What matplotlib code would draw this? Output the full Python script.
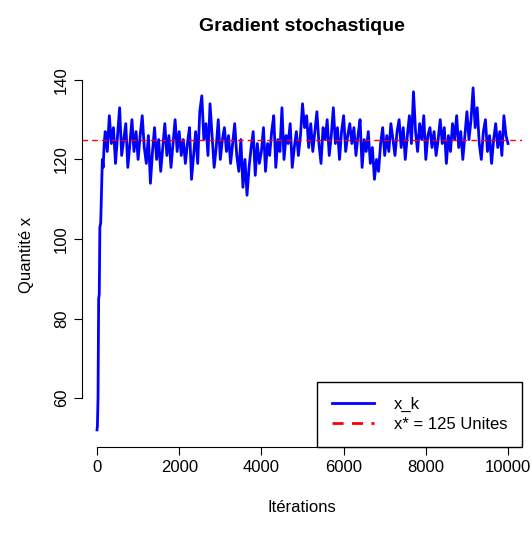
import numpy as np
import matplotlib.pyplot as plt

plt.rcParams['font.family'] = ['Liberation Sans', 'DejaVu Sans']

# start of the run (iteration, value)
start_iter = [0, 10, 25, 40, 55, 70, 90, 110, 130, 150, 175]
start_vals = [52, 53, 60, 85, 86, 103, 104, 112, 120, 118, 124]

# then one reading every 50 iterations from 200 on
trace_vals = [
    127, 122, 131, 124, 128, 119, 126, 133, 121, 125, 129, 118, 124, 130, 122, 127, 120, 126, 131, 123,
    119, 126, 114, 122, 128, 120, 125, 117, 123, 129, 121, 126, 118, 124, 130, 122, 127, 121, 125, 119,
    124, 128, 115, 121, 127, 119, 132, 136, 125, 129, 121, 134, 126, 118, 123, 130, 120, 125, 128, 122,
    126, 119, 124, 129, 121, 117, 125, 113, 120, 111, 118, 123, 127, 116, 124, 119, 122, 128, 117, 124,
    121, 127, 131, 118, 125, 122, 133, 120, 126, 124, 129, 118, 123, 127, 121, 126, 134, 128, 131, 123,
    129, 122, 127, 132, 124, 119, 128, 125, 130, 121, 126, 133, 124, 128, 120, 127, 131, 122, 126, 129,
    124, 128, 121, 126, 130, 118, 125, 122, 127, 119, 123, 115, 120, 117, 124, 128, 121, 126, 122, 129,
    125, 121, 127, 130, 123, 128, 120, 126, 131, 124, 137, 127, 122, 129, 125, 131, 120, 126, 128, 123,
    127, 121, 125, 130, 124, 128, 119, 126, 122, 129, 125, 131, 123, 127, 120, 126, 132, 125, 130, 138,
    128, 133, 124, 120, 127, 130, 122, 126, 119, 125, 129, 123, 127, 121, 131, 126, 124,
]
trace_iter = list(np.arange(200, 200 + 50 * len(trace_vals), 50))

x_star = 125

iters = start_iter + trace_iter
vals = start_vals + trace_vals

fig = plt.figure(figsize=(5.32, 5.38), dpi=100)
ax = fig.add_axes([82 / 532, 91 / 538, 440 / 532, 385 / 538])

ax.plot(iters, vals, color='blue', lw=2, label='x_k')
ax.axhline(x_star, color='red', ls=(0, (4, 3)), lw=1, label='x* = 125 Unites')

ax.set_xlim(-365, 10340)
ax.set_ylim(47.7, 144.5)
ax.set_xticks([0, 2000, 4000, 6000, 8000, 10000])
ax.set_yticks([60, 80, 100, 120, 140])
ax.spines['top'].set_visible(False)
ax.spines['right'].set_visible(False)
ax.spines['left'].set_bounds(60, 140)
ax.spines['bottom'].set_bounds(0, 10000)
ax.tick_params(labelsize=12, length=6)
for lab in ax.get_yticklabels():
    lab.set_rotation(90)
    lab.set_va('center')

ax.set_xlabel('Itérations', fontsize=12, labelpad=18)
ax.set_ylabel('Quantité x', fontsize=12, labelpad=14)
ax.set_title('Gradient stochastique', fontsize=14, fontweight='bold', pad=22)

leg = ax.legend(loc='lower right', fontsize=12, fancybox=False, framealpha=1,
                edgecolor='black', borderaxespad=0, handlelength=2.5,
                borderpad=0.9, labelspacing=0.3, handletextpad=1.2)
leg.get_frame().set_linewidth(1)
leg.get_lines()[1].set_linewidth(2)

fig.savefig('out.png', dpi=100)
